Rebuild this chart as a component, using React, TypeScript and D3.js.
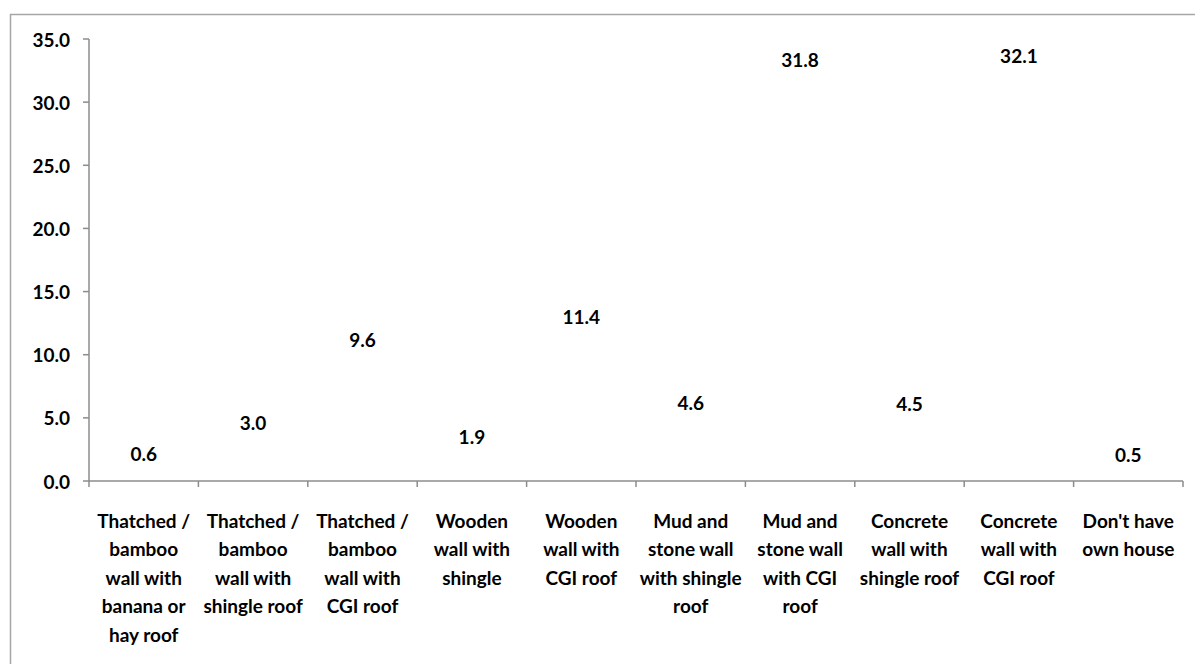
import React, { useEffect } from "react";
import * as d3 from "d3";

// Share of households by housing type (%)
const categories = [
  "Thatched / bamboo wall with banana or hay roof",
  "Thatched / bamboo wall with shingle roof",
  "Thatched / bamboo wall with CGI roof",
  "Wooden wall with shingle",
  "Wooden wall with CGI roof",
  "Mud and stone wall with shingle roof",
  "Mud and stone wall with CGI roof",
  "Concrete wall with shingle roof",
  "Concrete wall with CGI roof",
  "Don't have own house",
];

const categoryLines = [
  ["Thatched /", "bamboo", "wall with", "banana or", "hay roof"],
  ["Thatched /", "bamboo", "wall with", "shingle roof"],
  ["Thatched /", "bamboo", "wall with", "CGI roof"],
  ["Wooden", "wall with", "shingle"],
  ["Wooden", "wall with", "CGI roof"],
  ["Mud and", "stone wall", "with shingle", "roof"],
  ["Mud and", "stone wall", "with CGI", "roof"],
  ["Concrete", "wall with", "shingle roof"],
  ["Concrete", "wall with", "CGI roof"],
  ["Don't have", "own house"],
];

const values = [0.6, 3.0, 9.6, 1.9, 11.4, 4.6, 31.8, 4.5, 32.1, 0.5];

const yTicks = [0, 5, 10, 15, 20, 25, 30, 35];

const W = 1195;
const H = 664;
const FONT = "Lato, 'Open Sans', sans-serif";
const AXIS = "#8c8c8c";
const FS = 19;

export default function App() {
  useEffect(() => {
    document.body.style.margin = "0";
    document.body.style.overflow = "hidden";
  }, []);

  const x = d3.scaleBand<string>().domain(categories).range([89, 1183]).padding(0);
  const y = d3.scaleLinear().domain([0, 35]).range([481, 39]);
  const bw = x.bandwidth();
  const fmt = d3.format(".1f");

  return (
    <svg width={W} height={H} style={{ display: "block", background: "#fff" }} fontFamily={FONT}>
      {/* chart frame */}
      <rect x={10.5} y={14.5} width={W + 20} height={H + 20} fill="none" stroke="#a6a6a6" strokeWidth={1.5} />

      {/* bars (unfilled) */}
      {categories.map((c, i) => (
        <rect
          key={"b" + i}
          x={x(c)! + bw * 0.2}
          y={y(values[i])}
          width={bw * 0.6}
          height={y(0) - y(values[i])}
          fill="#ffffff"
        />
      ))}

      {/* y axis */}
      <line x1={89} x2={89} y1={y(35)} y2={y(0)} stroke={AXIS} strokeWidth={1.5} />
      {yTicks.map((t) => (
        <g key={"yt" + t}>
          <line x1={83} x2={89} y1={y(t)} y2={y(t)} stroke={AXIS} strokeWidth={1.5} />
          <text x={70} y={y(t)} dy="0.4em" textAnchor="end" fontSize={FS} fontWeight={700} fill="#000">
            {fmt(t)}
          </text>
        </g>
      ))}

      {/* x axis */}
      <line x1={89} x2={1183} y1={y(0)} y2={y(0)} stroke={AXIS} strokeWidth={1.5} />
      {categories.map((c, i) => (
        <line key={"xt" + i} x1={x(c)!} x2={x(c)!} y1={y(0)} y2={y(0) + 6} stroke={AXIS} strokeWidth={1.5} />
      ))}
      <line x1={1183} x2={1183} y1={y(0)} y2={y(0) + 6} stroke={AXIS} strokeWidth={1.5} />

      {/* category labels */}
      {categories.map((c, i) => (
        <text key={"cl" + i} textAnchor="middle" fontSize={FS} fontWeight={700} fill="#000">
          {categoryLines[i].map((ln, j) => (
            <tspan key={j} x={x(c)! + bw / 2} y={528 + j * 28.4}>
              {ln}
            </tspan>
          ))}
        </text>
      ))}

      {/* value labels */}
      {categories.map((c, i) => (
        <text
          key={"v" + i}
          x={x(c)! + bw / 2}
          y={y(values[i]) - 20}
          dy="0.38em"
          textAnchor="middle"
          fontSize={FS}
          fontWeight={700}
          fill="#000"
        >
          {fmt(values[i])}
        </text>
      ))}
    </svg>
  );
}
